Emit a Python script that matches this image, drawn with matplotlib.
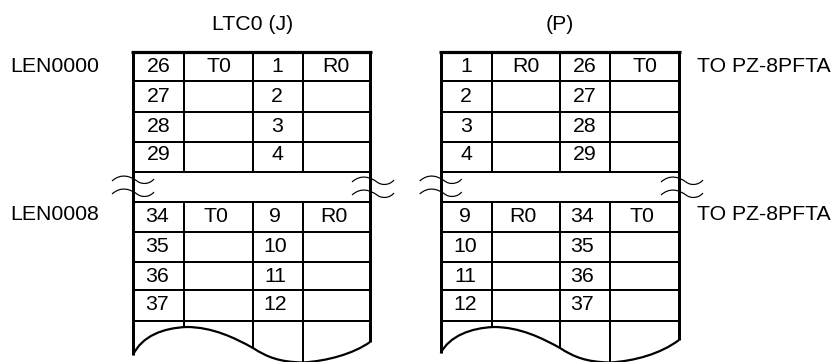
import matplotlib.pyplot as plt
from matplotlib.patches import PathPatch
from matplotlib.path import Path

plt.rcParams['font.family'] = ['Liberation Sans', 'DejaVu Sans']

titles = ['LTC0 (J)', '(P)']
left_labels = ['LEN0000', 'LEN0008']
right_label = 'TO PZ-8PFTA'

upper_left = [['26', 'T0', '1', 'R0'], ['27', '', '2', ''], ['28', '', '3', ''], ['29', '', '4', '']]
lower_left = [['34', 'T0', '9', 'R0'], ['35', '', '10', ''], ['36', '', '11', ''], ['37', '', '12', '']]
upper_right = [['1', 'R0', '26', 'T0'], ['2', '', '27', ''], ['3', '', '28', ''], ['4', '', '29', '']]
lower_right = [['9', 'R0', '34', 'T0'], ['10', '', '35', ''], ['11', '', '36', ''], ['12', '', '37', '']]

FS = 15.3
PX = 0.72  # line widths given in pixels

fig = plt.figure(figsize=(8.34, 3.62), dpi=100)
ax = fig.add_axes([0, 0, 1, 1])
ax.set_xlim(0, 834)
ax.set_ylim(362, 0)
ax.axis('off')


def hline(x0, x1, y, lw=2):
    ax.plot([x0, x1], [y, y], color='black', lw=lw * PX, solid_capstyle='butt')


def curve(verts, lw):
    codes = [Path.MOVETO] + [Path.CURVE4] * (len(verts) - 1)
    ax.add_patch(PathPatch(Path(verts, codes), fc='none', ec='black', lw=lw * PX))


def break_mark(x, y):
    for dy in (0, 13):
        curve([(x, y + 5 + dy), (x + 9, y - 3 + dy), (x + 18, y + dy), (x + 25, y + 5 + dy),
               (x + 30, y + 9 + dy), (x + 38, y + 8 + dy), (x + 42, y + 3 + dy)], 1.2)


def draw_table(cols, upper, lower, text_x, text_x_low, wave_dy):
    x0, x1, x2, x3, x4 = cols
    top = 51.5
    upper_rows = [81, 111.5, 141.5, 172]
    lower_rows = [201.7, 231.7, 261.7, 290, 320.7]
    bottom = [355 + wave_dy, 328, 348, 362, 342 + wave_dy]

    # grid
    hline(x0 - 1.5, x4 + 2, top, 3.2)
    for y in upper_rows + lower_rows:
        hline(x0, x4, y)
    for x, y1, lw in zip(cols, bottom, [3, 2, 2, 2, 3]):
        if lw > 2:
            ax.plot([x, x], [top, y1], color='black', lw=lw * PX, solid_capstyle='butt')
        else:
            ax.plot([x, x], [top, upper_rows[-1]], color='black', lw=lw * PX, solid_capstyle='butt')
            ax.plot([x, x], [lower_rows[0], y1], color='black', lw=lw * PX, solid_capstyle='butt')

    # torn bottom edge
    curve([(x0, bottom[0]), (x0 + 9, 336), (x0 + 30, 328), (x1 + 2, 327),
           (x1 + 28, 327), (x2 - 18, 338), (x2, 348),
           (x2 + 14, 357), (x2 + 26, 362), (x3, 362.5),
           (x3 + 24, 361), (x3 + 50, 354), (x4, bottom[4])], 2.2)

    # cell text
    for row, y in zip(upper, [67, 97, 126, 155]):
        for s, x in zip(row, text_x):
            ax.text(x, y, s, fontsize=FS, ha='center', va='center')
    for row, y in zip(lower, [216.5, 247, 276, 305]):
        for s, x in zip(row, text_x_low):
            ax.text(x, y, s, fontsize=FS, ha='center', va='center')

    break_mark(x0 - 21, 176)
    break_mark(x4 - 18, 177)


draw_table([133, 184.5, 253, 303, 370], upper_left, lower_left,
           [159, 219, 277, 336], [157, 216, 275, 334], 0)
draw_table([440.7, 491.7, 560, 610.3, 679], upper_right, lower_right,
           [466, 526, 585, 645], [465, 523, 582, 642], -2)

ax.text(253, 24, titles[0], fontsize=FS, ha='center', va='center')
ax.text(560, 24, titles[1], fontsize=FS, ha='center', va='center')
for s, y in zip(left_labels, [66, 214]):
    ax.text(10, y, s, fontsize=FS, ha='left', va='center')
for y in [66, 214]:
    ax.text(697, y, right_label, fontsize=FS, ha='left', va='center')

fig.savefig('out.png', dpi=100)
